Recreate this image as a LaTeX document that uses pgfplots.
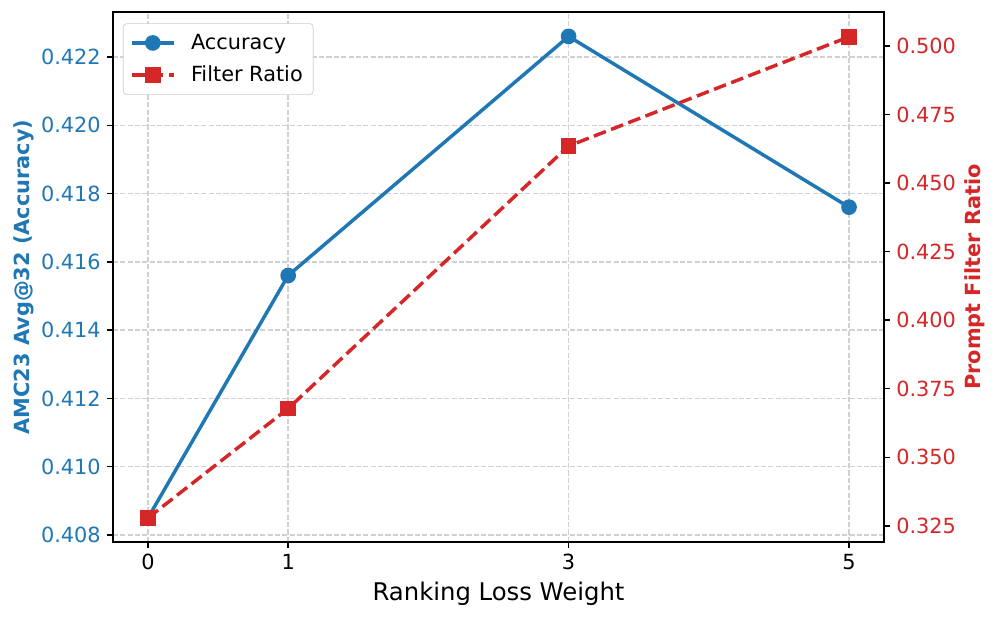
\documentclass[border=0pt]{standalone}
\usepackage{fontspec}
\setmainfont{DejaVu Sans}
\usepackage{pgfplots}
\pgfplotsset{compat=1.18}

\definecolor{tabblue}{HTML}{1F77B4}
\definecolor{tabred}{HTML}{D62728}

\pgfplotsset{
  common/.style={
    scale only axis,
    width=444pt, height=305pt,
    at={(0,0)}, anchor=south west,
    xmin=-0.25, xmax=5.25,
    tick label style={font=\fontsize{12}{14}\selectfont},
    /pgf/number format/assume math mode=true,
    scaled y ticks=false,
    tick align=outside,
    major tick length=3.5pt,
    every tick/.style={black, line width=0.8pt},
    legend image code/.code={
      \draw[mark repeat=2,mark phase=2]
        plot coordinates {(0pt,0pt) (12pt,0pt) (24pt,0pt)};
      \path (31pt,0pt);
    },
  },
}

\begin{document}
\begin{tikzpicture}
\path[use as bounding box] (-65pt,-44pt) rectangle (509pt,312pt);

% left axis: accuracy
\begin{axis}[
    common,
    axis line style={line width=0.9pt},
    xtick={0,1,3,5},
    xtick pos=bottom,
    ytick pos=left,
    ymin=0.40780, ymax=0.42331,
    ytick={0.408,0.410,0.412,0.414,0.416,0.418,0.420,0.422},
    yticklabel style={text=tabblue, /pgf/number format/fixed, /pgf/number format/precision=3, /pgf/number format/fixed zerofill},
    xlabel={Ranking Loss Weight},
    xlabel style={font=\fontsize{14}{16}\selectfont},
    ylabel={\textbf{AMC23 Avg@32 (Accuracy)}},
    ylabel style={font=\fontsize{12}{14}\selectfont, text=tabblue, yshift=-3pt},
    xmajorgrids, ymajorgrids,
    grid style={black!18, line width=0.8pt, dash pattern=on 2.96pt off 1.28pt},
]
\addplot[tabblue, line width=2pt, mark=*, mark size=3.5pt] coordinates {
  (0,0.4085) (1,0.4156) (3,0.4226) (5,0.4176)
};
\end{axis}

% right axis: filter ratio
\begin{axis}[
    common,
    axis x line=none,
    axis y line*=right,
    axis line style={line width=0.9pt},
    ymin=0.31917, ymax=0.51229,
    ytick={0.325,0.350,0.375,0.400,0.425,0.450,0.475,0.500},
    yticklabel style={text=tabred, /pgf/number format/fixed, /pgf/number format/precision=3, /pgf/number format/fixed zerofill},
    ylabel={\textbf{Prompt Filter Ratio}},
    ylabel style={font=\fontsize{12}{14}\selectfont, text=tabred, yshift=2pt},
    legend style={
      at={(axis description cs:0.013,0.979)}, anchor=north west,
      font=\fontsize{12}{14}\selectfont,
      draw=black!20, rounded corners=2pt, fill=white,
      inner xsep=4pt, inner ysep=4pt, row sep=4pt,
      cells={anchor=west},
    },
]
\addlegendimage{tabblue, line width=2pt, mark=*, mark size=3.5pt}
\addlegendentry{Accuracy}
\addplot[tabred, line width=2pt, dash pattern=on 7.4pt off 3.2pt,
         mark=square*, mark size=3.5pt, mark options={solid}] coordinates {
  (0,0.3279) (1,0.3678) (3,0.4635) (5,0.5033)
};
\addlegendentry{Filter Ratio}
\end{axis}
\end{tikzpicture}
\end{document}
